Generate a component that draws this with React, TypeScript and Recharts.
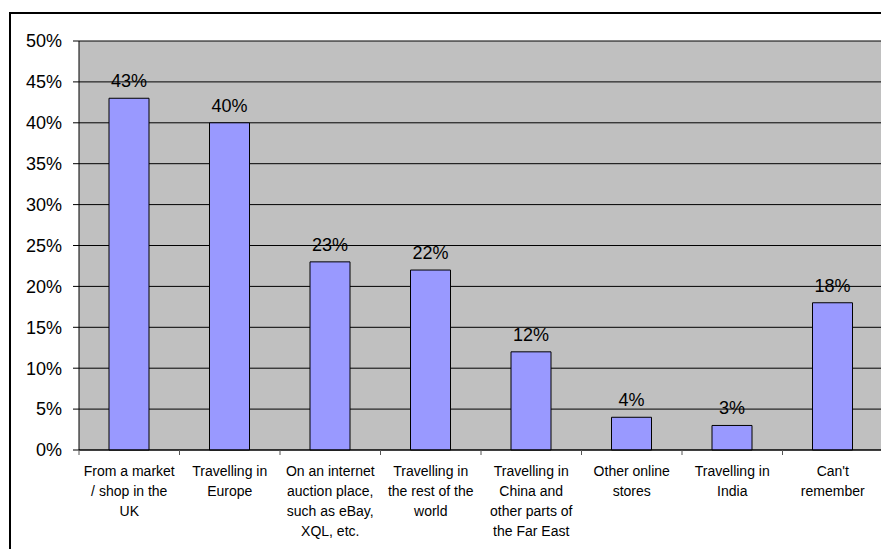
import { Bar, BarChart, CartesianGrid, LabelList, XAxis, YAxis } from 'recharts';

const categories = [
  'From a market / shop in the UK',
  'Travelling in Europe',
  'On an internet auction place, such as eBay, XQL, etc.',
  'Travelling in the rest of the world',
  'Travelling in China and other parts of the Far East',
  'Other online stores',
  'Travelling in India',
  "Can't remember",
];

const categoryLines = [
  ['From a market', '/ shop in the', 'UK'],
  ['Travelling in', 'Europe'],
  ['On an internet', 'auction place,', 'such as eBay,', 'XQL, etc.'],
  ['Travelling in', 'the rest of the', 'world'],
  ['Travelling in', 'China and', 'other parts of', 'the Far East'],
  ['Other online', 'stores'],
  ['Travelling in', 'India'],
  ["Can't", 'remember'],
];

const shares = [43, 40, 23, 22, 12, 4, 3, 18];

const yTicks = [0, 5, 10, 15, 20, 25, 30, 35, 40, 45, 50];

const data = categories.map((name, i) => ({ name, share: shares[i] }));

const FONT = '"Liberation Sans", Arial, sans-serif';
const CHART_W = 884;
const CHART_H = 549;
const Y_AXIS_W = 79;
const MARGIN_RIGHT = 1;
const BAND = (CHART_W - Y_AXIS_W - MARGIN_RIGHT) / categories.length;

function CategoryTick(props: any) {
  const { x, y, payload } = props;
  const lines = categoryLines[payload.index] || [];
  const left = x - BAND / 2;
  return (
    <g>
      <line x1={left} x2={left} y1={y} y2={y + 5} stroke="#555" />
      <text textAnchor="middle" fontFamily={FONT} fontSize={14} fill="#000">
        {lines.map((line, i) => (
          <tspan key={i} x={x} y={y + 26 + i * 20}>
            {line}
          </tspan>
        ))}
      </text>
    </g>
  );
}

export default function App() {
  return (
    <div
      style={{
        position: 'fixed',
        left: 0,
        top: 0,
        width: 881,
        height: 549,
        overflow: 'hidden',
        background: '#fff',
      }}
    >
      <div
        style={{
          position: 'absolute',
          left: 9,
          top: 12,
          width: 1000,
          height: 1000,
          borderLeft: '2px solid #000',
          borderTop: '2px solid #000',
        }}
      />
      <div style={{ position: 'absolute', left: 0, top: 0 }}>
        <BarChart
          width={CHART_W}
          height={CHART_H}
          data={data}
          margin={{ top: 41, right: MARGIN_RIGHT, left: 0, bottom: 0 }}
        >
          <CartesianGrid
            vertical={false}
            stroke="#000"
            strokeOpacity={1}
            fill="#C0C0C0"
            fillOpacity={1}
          />
          <XAxis
            dataKey="name"
            interval={0}
            height={99}
            tickLine={false}
            tickSize={0}
            tickMargin={0}
            axisLine={{ stroke: '#000' }}
            tick={<CategoryTick />}
          />
          <YAxis
            width={Y_AXIS_W}
            domain={[0, 50]}
            ticks={yTicks}
            interval={0}
            tickSize={6}
            tickMargin={11}
            axisLine={{ stroke: '#000' }}
            tickLine={{ stroke: '#000' }}
            tickFormatter={(v) => `${v}%`}
            tick={{ fontSize: 18, fill: '#000', fontFamily: FONT }}
          />
          <Bar
            dataKey="share"
            fill="#9999FF"
            stroke="#000"
            strokeWidth={1}
            barSize={40}
            isAnimationActive={false}
          >
            <LabelList
              dataKey="share"
              position="top"
              offset={11}
              formatter={(v: any) => `${v}%`}
              style={{ fontSize: 18, fill: '#000', fontFamily: FONT }}
            />
          </Bar>
        </BarChart>
      </div>
    </div>
  );
}
